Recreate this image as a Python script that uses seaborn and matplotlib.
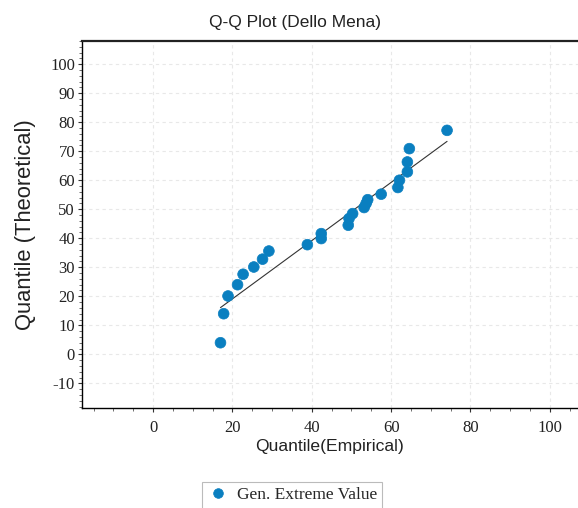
import numpy as np
import pandas as pd
import matplotlib
matplotlib.use("Agg")
import matplotlib.pyplot as plt
import seaborn as sns
from matplotlib.ticker import MultipleLocator

# Data
empirical = [17.0, 17.8, 18.9, 21.3, 22.7, 25.4, 27.6, 29.2, 38.9, 42.4, 42.4,
             49.2, 49.4, 50.3, 53.2, 53.7, 54.1, 57.5, 61.7, 62.1, 64.1, 64.1,
             64.6, 74.1]
theoretical = [4.0, 14.0, 20.1, 24.0, 27.6, 30.1, 32.8, 35.6, 37.8, 39.9, 41.6,
               44.5, 46.8, 48.5, 50.6, 52.0, 53.3, 55.2, 57.5, 60.0, 62.9, 66.3,
               70.9, 77.2]
line_x = [17.0, 74.1]
line_y = [16.1, 73.4]
series_name = "Gen. Extreme Value"
x_ticks = [0, 20, 40, 60, 80, 100]
y_ticks = [-10, 0, 10, 20, 30, 40, 50, 60, 70, 80, 90, 100]

sns.set_theme(style="white")
plt.rcParams['font.family'] = ['Liberation Sans', 'DejaVu Sans']
plt.rcParams['axes.unicode_minus'] = False

df = pd.DataFrame({"Empirical": empirical, "Theoretical": theoretical,
                   "Series": [series_name] * len(empirical)})
line_df = pd.DataFrame({"x": line_x, "y": line_y})

W, H = 578, 508
ax_l, ax_r, ax_t, ax_b = 82, 578, 41, 407.7
fig = plt.figure(figsize=(W / 100, H / 100), dpi=100)
ax = fig.add_axes([ax_l / W, (H - ax_b) / H, (ax_r - ax_l) / W, (ax_b - ax_t) / H])

sns.lineplot(data=line_df, x="x", y="y", ax=ax, color="#333333", linewidth=0.8,
             legend=False)
sns.scatterplot(data=df, x="Empirical", y="Theoretical", hue="Series",
                palette=["#0a7fc0"], s=60, edgecolor="#0a7fc0", linewidth=0.5,
                ax=ax, zorder=3)

ax.set_xlim(-17.9, 107.1)
ax.set_ylim(-18.4, 108.0)
ax.set_xticks(x_ticks)
ax.set_yticks(y_ticks)
ax.xaxis.set_minor_locator(MultipleLocator(5))
ax.yaxis.set_minor_locator(MultipleLocator(2))
ax.grid(True, which="major", color="#e8e8e8", linestyle=(0, (3, 3)), linewidth=0.8)
ax.set_axisbelow(True)

for side in ["left", "bottom"]:
    ax.spines[side].set_color("black")
    ax.spines[side].set_linewidth(1.0)
ax.spines["top"].set_color("#222222")
ax.spines["top"].set_linewidth(1.6)
ax.spines["right"].set_visible(False)

ax.tick_params(axis="both", which="major", direction="out", length=3, width=0.8,
               color="#333333", labelsize=12, pad=2, bottom=True, left=True)
ax.tick_params(axis="both", which="minor", direction="out", length=2, width=0.6,
               color="#555555", bottom=True, left=True)
for lbl in ax.get_xticklabels() + ax.get_yticklabels():
    lbl.set_family(["Liberation Serif", "DejaVu Serif"])
    lbl.set_color("#222222")
ax.tick_params(axis="x", pad=6)

ax.set_title("Q-Q Plot (Dello Mena)", fontsize=12.5, color="#222222", pad=10)
ax.title.set_position(((295 - ax_l) / (ax_r - ax_l), 1.0))
ax.set_xlabel("Quantile(Empirical)", fontsize=12.6, color="#222222", labelpad=2)
ax.set_ylabel("Quantile (Theoretical)", fontsize=15.8, color="#222222", labelpad=10)

leg = ax.legend(loc="upper left",
                bbox_to_anchor=((202 - ax_l) / (ax_r - ax_l), -(482 - ax_b) / (ax_b - ax_t)),
                frameon=True, fancybox=False, edgecolor="#aaaaaa",
                prop={"family": ["Liberation Serif", "DejaVu Serif"], "size": 12.5},
                handlelength=1.2, handletextpad=0.5, borderpad=0.3,
                borderaxespad=0, markerscale=0.9)
leg.get_frame().set_linewidth(0.8)

fig.savefig("out.png", dpi=100)
